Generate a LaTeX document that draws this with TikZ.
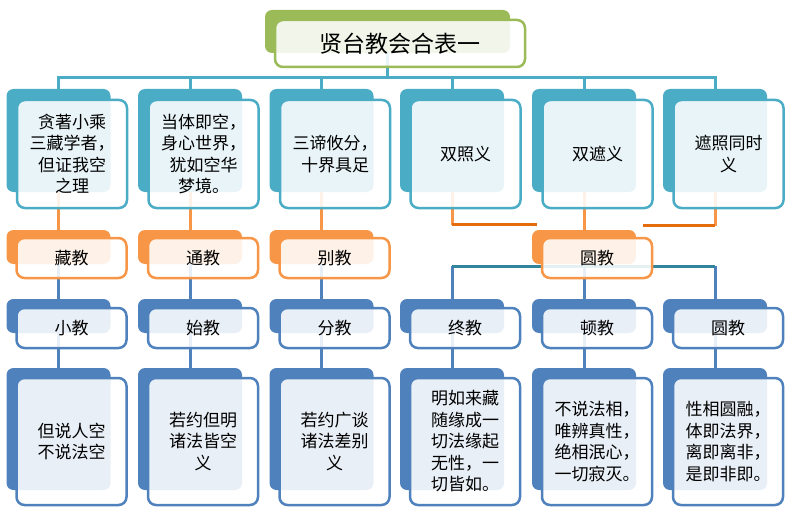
\documentclass[tikz,border=0pt]{standalone}
\usepackage{fontspec}
\setmainfont{Noto Sans CJK SC}
\usetikzlibrary{backgrounds}

\definecolor{aqua}{HTML}{4BACC6}
\definecolor{dteal}{HTML}{31849B}
\definecolor{orng}{HTML}{F79646}
\definecolor{dorng}{HTML}{E46C0A}
\definecolor{blu}{HTML}{4F81BD}
\definecolor{olv}{HTML}{9BBB59}

\begin{document}
\begin{tikzpicture}[x=1pt, y=-1pt,
  bk/.style={fill=#1, draw=none, rounded corners=7pt, inner sep=0pt, minimum width=104pt},
  fr/.style={draw=#1, line width=2.5pt, fill=white, fill opacity=0.88, text opacity=1,
    rounded corners=8pt, inner sep=0pt, minimum width=110pt, align=center,
    font=\fontsize{17}{21.5}\selectfont},
  ln/.style={line width=3pt, draw=#1}]
\useasboundingbox (0,0) rectangle (789,513);

% title
\node[bk=olv, minimum width=245pt, minimum height=43pt] (hb) at (387.5,31.5) {};
\node[fr=olv, minimum width=250pt, minimum height=47pt, font=\fontsize{23}{28}\selectfont] (h) at (400,43.5) {贤台教会合表一};

% top row
\foreach \i/\x/\txt in {1/58.5/{贪著小乘\\三藏学者，\\但证我空\\之理},
    2/190/{当体即空，\\身心世界，\\犹如空华\\梦境。},
    3/321.5/{三谛攸分，\\十界具足},
    4/452/{双照义}, 5/584/{双遮义}, 6/715/{遮照同时\\义}} {
  \node[bk=aqua, minimum height=103pt] (tb\i) at (\x,140.5) {};
  \node[fr=aqua, minimum height=108pt] (t\i) at (\x+13.5,154) {\txt};
}

% second row
\foreach \i/\x/\txt in {1/58.5/藏教, 2/190/通教, 3/321.5/别教, 5/584/圆教} {
  \node[bk=orng, minimum height=34pt] (mb\i) at (\x,247) {};
  \node[fr=orng, minimum height=40pt] (m\i) at (\x+13,258) {\txt};
}

% third row
\foreach \i/\x/\txt in {1/58.5/小教, 2/190/始教, 3/321.5/分教, 4/452/终教, 5/584/顿教, 6/715/圆教} {
  \node[bk=blu, minimum height=34pt] (sb\i) at (\x,316) {};
  \node[fr=blu, minimum height=40pt] (s\i) at (\x+13,328) {\txt};
}

% bottom row
\foreach \i/\x/\txt in {1/58.5/{但说人空\\不说法空},
    2/190/{若约但明\\诸法皆空\\义},
    3/321.5/{若约广谈\\诸法差别\\义},
    4/452/{明如来藏\\随缘成一\\切法缘起\\无性，一\\切皆如。},
    5/584/{不说法相，\\唯辨真性，\\绝相泯心，\\一切寂灭。},
    6/715/{性相圆融，\\体即法界，\\离即离非，\\是即非即。}} {
  \node[bk=blu, minimum height=122pt] (db\i) at (\x,429) {};
  \node[fr=blu, minimum height=127pt] (d\i) at (\x+13,441.5) {\txt};
}

\begin{scope}[on background layer]
  \path (hb.south) ++(0,24) coordinate (hj);
  \draw[ln=aqua] (hb) -- (hj);
  \draw[ln=aqua] (tb1) |- (hj) -| (tb6);
  \foreach \i in {2,...,5} \draw[ln=aqua] (hj -| tb\i) -- (tb\i);

  \foreach \i in {1,2,3,5} \draw[ln=orng] (tb\i) -- (mb\i);
  \coordinate (ol) at ([xshift=5.5pt,yshift=5pt]mb5.north west);
  \coordinate (or) at ([xshift=-10pt,yshift=11pt]m5.north east);
  \draw[ln=orng] (tb4) -- (tb4 |- ol);
  \draw[ln=dorng] (tb4 |- ol) -- (ol);
  \draw[ln=orng] (tb6) -- (tb6 |- or);
  \draw[ln=dorng] (or) -- (tb6 |- or);

  \foreach \i in {1,2,3} \draw[ln=blu] (mb\i) -- (sb\i);
  \coordinate (yj) at ([yshift=-8pt]m5.center);
  \draw[ln=blu] (yj -| sb4) -- (sb4);
  \draw[ln=blu] (yj -| sb6) -- (sb6);
  \draw[ln=blu] (mb5) -- (sb5);
  \draw[ln=dteal] (yj -| sb4) -- (yj -| sb6);

  \foreach \i in {1,...,6} \draw[ln=blu] (sb\i) -- (db\i);
\end{scope}
\end{tikzpicture}
\end{document}
